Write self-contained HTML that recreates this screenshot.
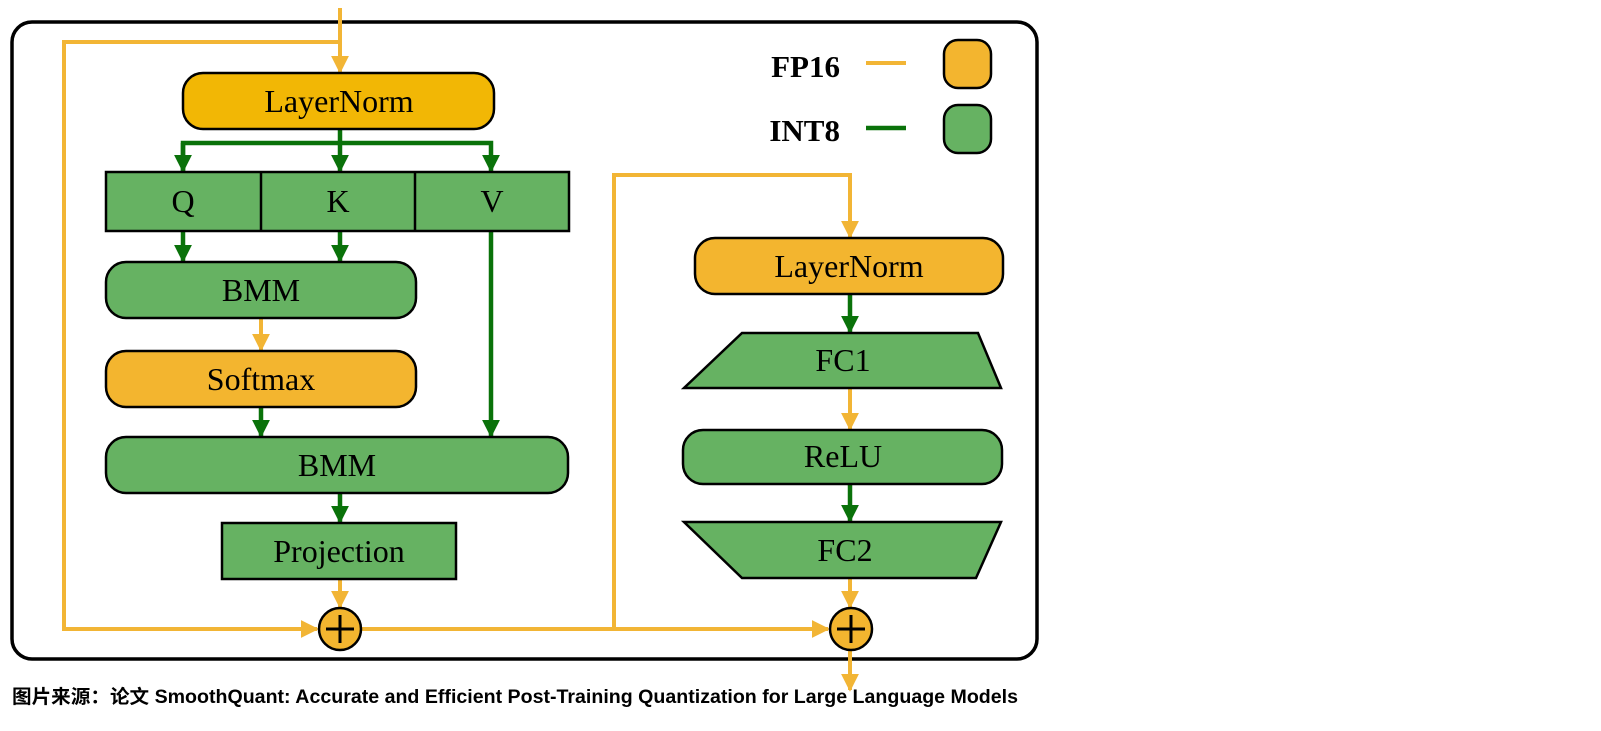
<!DOCTYPE html>
<html><head><meta charset="utf-8"><style>
html,body{margin:0;padding:0;background:#fff;width:1601px;height:731px;overflow:hidden}
svg{display:block}
.t{font-family:"Liberation Serif",serif;font-size:32px;fill:#000;text-anchor:middle}
</style></head><body>
<svg width="1601" height="731" viewBox="0 0 1601 731" xmlns="http://www.w3.org/2000/svg">
<defs>
<marker id="ay" viewBox="0 0 10 10" refX="9" refY="5" markerWidth="4.5" markerHeight="4.5" orient="auto" markerUnits="strokeWidth"><path d="M0,0 L10,5 L0,10 z" fill="#F2B535"/></marker>
<marker id="ag" viewBox="0 0 10 10" refX="9" refY="5" markerWidth="4" markerHeight="4" orient="auto" markerUnits="strokeWidth"><path d="M0,0 L10,5 L0,10 z" fill="#0A720A"/></marker>
</defs>
<rect x="12" y="22" width="1025" height="637" rx="20" fill="#fff" stroke="#000" stroke-width="3.5"/>
<g fill="none" stroke="#F2B535" stroke-width="4">
<line x1="340" y1="8" x2="340" y2="72" marker-end="url(#ay)"/>
<polyline points="340,42 64,42 64,629 317,629" marker-end="url(#ay)"/>
<line x1="261" y1="318" x2="261" y2="350" marker-end="url(#ay)"/>
<line x1="340" y1="579" x2="340" y2="607" marker-end="url(#ay)"/>
<line x1="361" y1="629" x2="828" y2="629" marker-end="url(#ay)"/>
<polyline points="614,629 614,175 850,175 850,237" marker-end="url(#ay)"/>
<line x1="850" y1="388" x2="850" y2="429" marker-end="url(#ay)"/>
<line x1="850" y1="578" x2="850" y2="607" marker-end="url(#ay)"/>
<line x1="850" y1="650" x2="850" y2="690" marker-end="url(#ay)"/>
<line x1="866" y1="63" x2="906" y2="63"/>
</g>
<g fill="none" stroke="#0A720A" stroke-width="4.5">
<line x1="340" y1="129" x2="340" y2="143"/>
<polyline points="183,171 183,143 491,143 491,171" marker-end="url(#ag)"/>
<line x1="183" y1="143" x2="183" y2="171" marker-end="url(#ag)"/>
<line x1="340" y1="143" x2="340" y2="171" marker-end="url(#ag)"/>
<line x1="183" y1="231" x2="183" y2="261" marker-end="url(#ag)"/>
<line x1="340" y1="231" x2="340" y2="261" marker-end="url(#ag)"/>
<line x1="491" y1="231" x2="491" y2="436" marker-end="url(#ag)"/>
<line x1="261" y1="407" x2="261" y2="436" marker-end="url(#ag)"/>
<line x1="340" y1="493" x2="340" y2="522" marker-end="url(#ag)"/>
<line x1="850" y1="294" x2="850" y2="332" marker-end="url(#ag)"/>
<line x1="850" y1="484" x2="850" y2="521" marker-end="url(#ag)"/>
<line x1="866" y1="128" x2="906" y2="128"/>
</g>
<g stroke="#000" stroke-width="2.5">
<rect x="183" y="73" width="311" height="56" rx="20" fill="#F2B705"/>
<rect x="106" y="172" width="463" height="59" fill="#66B262"/>
<line x1="261" y1="172" x2="261" y2="231"/>
<line x1="415" y1="172" x2="415" y2="231"/>
<rect x="106" y="262" width="310" height="56" rx="20" fill="#66B262"/>
<rect x="106" y="351" width="310" height="56" rx="20" fill="#F3B52F"/>
<rect x="106" y="437" width="462" height="56" rx="20" fill="#66B262"/>
<rect x="222" y="523" width="234" height="56" fill="#66B262"/>
<circle cx="340" cy="629" r="21" fill="#F3B52F"/>
<rect x="695" y="238" width="308" height="56" rx="20" fill="#F3B52F"/>
<polygon points="742,333 978,333 1001,388 684,388" fill="#66B262"/>
<rect x="683" y="430" width="319" height="54" rx="20" fill="#66B262"/>
<polygon points="684,522 1001,522 976,578 742,578" fill="#66B262"/>
<circle cx="851" cy="629" r="21" fill="#F3B52F"/>
<rect x="944" y="40" width="47" height="48" rx="14" fill="#F3B52F"/>
<rect x="944" y="105" width="47" height="48" rx="14" fill="#66B262"/>
</g>
<g stroke="#000" stroke-width="3">
<line x1="326" y1="629" x2="354" y2="629"/><line x1="340" y1="615" x2="340" y2="643"/>
<line x1="837" y1="629" x2="865" y2="629"/><line x1="851" y1="615" x2="851" y2="643"/>
</g>
<text class="t" x="339" y="112">LayerNorm</text>
<text class="t" x="183" y="212">Q</text>
<text class="t" x="338" y="212">K</text>
<text class="t" x="492" y="212">V</text>
<text class="t" x="261" y="301">BMM</text>
<text class="t" x="261" y="390">Softmax</text>
<text class="t" x="337" y="476">BMM</text>
<text class="t" x="339" y="562">Projection</text>
<text class="t" x="849" y="277">LayerNorm</text>
<text class="t" x="843" y="371">FC1</text>
<text class="t" x="843" y="467">ReLU</text>
<text class="t" x="845" y="561">FC2</text>
<text x="840" y="77" style="font-family:'Liberation Serif',serif;font-weight:bold;font-size:31px;text-anchor:end">FP16</text>
<text x="840" y="141" style="font-family:'Liberation Serif',serif;font-weight:bold;font-size:31px;text-anchor:end">INT8</text>
<text x="12" y="703" textLength="1006" lengthAdjust="spacingAndGlyphs" style="font-family:'Liberation Sans','Noto Sans CJK SC',sans-serif;font-weight:bold;font-size:19px">图片来源：论文 SmoothQuant: Accurate and Efficient Post-Training Quantization for Large Language Models</text>
</svg>
</body></html>
